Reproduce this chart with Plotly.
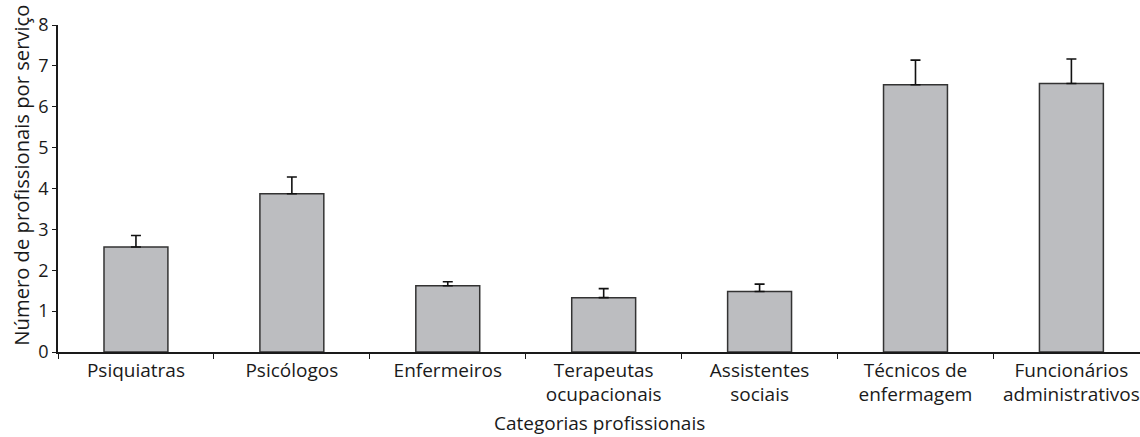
import plotly.graph_objects as go

categories = ["Psiquiatras", "Psicólogos", "Enfermeiros", "Terapeutas<br>ocupacionais",
              "Assistentes<br>sociais", "Técnicos de<br>enfermagem", "Funcionários<br>administrativos"]
means = [2.57, 3.87, 1.62, 1.33, 1.48, 6.54, 6.57]
errors = [0.28, 0.41, 0.10, 0.22, 0.18, 0.60, 0.60]
y_ticks = [0, 1, 2, 3, 4, 5, 6, 7, 8]
x_title = "Categorias profissionais"
y_title = "Número de profissionais por serviço"

FONT = "Open Sans"
TXT = "#1a1a1a"

fig = go.Figure()
fig.add_trace(go.Bar(
    x=categories, y=means,
    marker=dict(color="#bcbdc0", line=dict(color="#333333", width=1.5)),
    width=0.41,
    error_y=dict(type="data", array=errors, symmetric=False, arrayminus=[0]*len(errors),
                 color="#111111", thickness=1.6, width=5),
))

fig.update_layout(
    width=1140, height=437,
    margin=dict(l=58, r=0, t=25, b=85),
    plot_bgcolor="white", paper_bgcolor="white",
    font=dict(family=FONT, size=17, color=TXT),
    showlegend=False,
    annotations=[
        dict(text=x_title, xref="paper", yref="paper", x=0.5, y=-0.218,
             xanchor="center", yanchor="middle", showarrow=False,
             font=dict(size=19, color=TXT)),
        dict(text=y_title, xref="paper", yref="paper", x=-0.034, y=0.54,
             xanchor="center", yanchor="middle", showarrow=False, textangle=-90,
             font=dict(size=20.2, color=TXT)),
    ],
)
fig.update_xaxes(
    range=[-0.5, 6.44],
    showline=True, linecolor=TXT, linewidth=1.5,
    ticks="outside", tickson="boundaries", ticklen=5, tickcolor=TXT, tickwidth=1.2,
    showgrid=False,
    tickfont=dict(size=19),
)
fig.update_yaxes(
    range=[0, 8], tickvals=y_ticks,
    showline=True, linecolor=TXT, linewidth=1.5,
    ticks="outside", ticklen=4, tickcolor=TXT, tickwidth=1.2,
    showgrid=False, zeroline=False,
    tickfont=dict(size=18),
)

fig.write_html("out.html", config={"displayModeBar": False},
               post_script="document.body.style.margin='0';document.body.style.overflow='hidden';")
